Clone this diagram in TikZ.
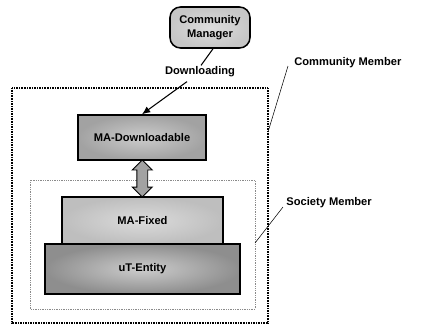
\documentclass[tikz,border=0pt]{standalone}
\usepackage{fontspec}
\setmainfont{Liberation Sans}
\usetikzlibrary{positioning,arrows.meta,calc,shapes.arrows}
\definecolor{mgrgray}{HTML}{C6C6C6}
\definecolor{dlgray}{HTML}{A2A2A2}
\definecolor{fixgray}{HTML}{BEBEBE}
\definecolor{entgray}{HTML}{8E8E8E}
\definecolor{dotgray}{HTML}{8A8A8A}

\begin{document}
\begin{tikzpicture}[x=0.03cm,y=-0.03cm,
      lbl/.style={font=\fontsize{9.5}{12.5}\selectfont\bfseries,inner sep=1pt,align=center},
      box/.style={draw=black,line width=1.3pt,font=\fontsize{9.5}{12.5}\selectfont\bfseries,align=center,inner sep=0pt},
      mgrbox/.style={box,rounded corners=9pt,inner color=mgrgray!60,outer color=mgrgray,minimum width=2.4cm,minimum height=1.23cm},
      darrow/.style={double arrow,draw=black,line width=0.8pt,fill=dlgray,rotate=90,inner sep=0.15cm,double arrow head extend=0.135cm,minimum height=1.11cm},
      conn/.style={line width=0.9pt},
      lead/.style={line width=0.45pt}]
    \useasboundingbox (0,0) rectangle (427,325);
    % containers
    \draw[dash pattern=on 0.7pt off 0.7pt,line width=0.9pt] (12,88) rectangle (268,323);
    \draw[dash pattern=on 0.6pt off 0.9pt,dotgray,line width=0.6pt] (30,180) rectangle (255,309);
    % boxes
    \node[mgrbox] (mgr) at (210,27.5) {Community\\ Manager};
    \node[box,inner color=dlgray!55,outer color=dlgray,minimum width=3.84cm,minimum height=1.35cm] (dl) at (142,137.5) {MA-Downloadable};
    \node[box,inner color=fixgray!55,outer color=fixgray,minimum width=4.83cm,minimum height=1.41cm] (fixed) at (142.5,220.5) {MA-Fixed};
    \node[box,inner color=entgray!45,outer color=entgray,minimum width=5.85cm,minimum height=1.5cm] (entity) at (142.5,269) {uT-Entity};
    \path (dl.south) -- (fixed.north) node[midway,darrow] (updown) {};
    % downloading
    \node[lbl] (dload) at (200,72) {Downloading};
    \draw[conn] ([xshift=0.09cm]mgr.south) -- ([xshift=0.03cm]dload.north);
    \draw[conn,-{Latex[length=7pt,width=6pt]}] ($(dload.south)+(-13,3)$) -- (dl.north);
    % membership labels
    \node[lbl,anchor=west] (cmem) at (293,63) {Community Member};
    \node[lbl,anchor=west] (smem) at (285,203) {Society Member};
    \coordinate (cmhit) at (268,132);
    \coordinate (smhit) at (255,243);
    \draw[lead] ($(cmem.west)+(-5,3)$) -- (cmhit);
    \draw[lead] ($(smem.west)+(-2,4)$) -- (smhit);
  \end{tikzpicture}
\end{document}
